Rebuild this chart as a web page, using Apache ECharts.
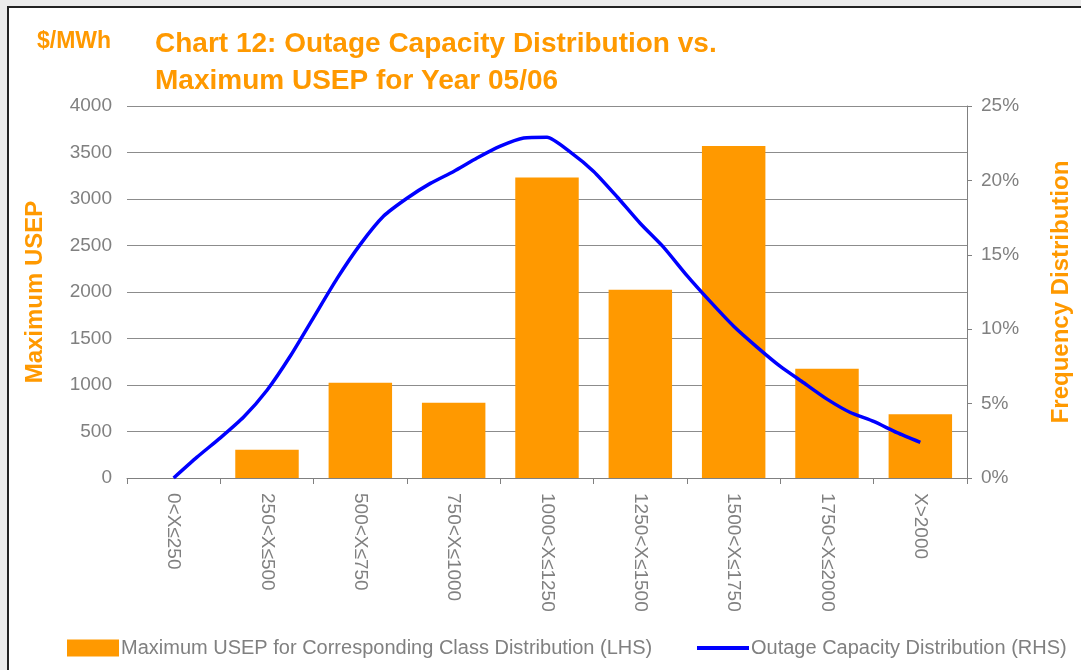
<!DOCTYPE html>
<html>
<head>
<meta charset="utf-8">
<script src="https://cdn.jsdelivr.net/npm/echarts@6/dist/echarts.min.js"></script>
<style>
  html, body { margin: 0; padding: 0; background: #ebebeb; }
  #frame { position: absolute; left: 7px; top: 6px; width: 1100px; height: 700px;
           background: #fff; border-left: 2px solid #222; border-top: 2px solid #222; }
  #main { position: absolute; left: 0; top: 0; width: 1081px; height: 670px; }
</style>
</head>
<body>
<div id="frame"></div>
<div id="main"></div>
<script>
// class ranges of outage capacity (MW)
var categories = ['0<X≤250', '250<X≤500', '500<X≤750', '750<X≤1000', '1000<X≤1250',
                  '1250<X≤1500', '1500<X≤1750', '1750<X≤2000', 'X>2000'];

// maximum USEP ($/MWh) per class (LHS)
var usepMax = [0, 305, 1025, 810, 3230, 2025, 3570, 1175, 685];

// outage capacity frequency (%), sampled every quarter class (RHS)
var outageFreq = [0, 1.4, 2.7, 4.1, 5.9, 8.2, 10.8, 13.4, 15.7, 17.6, 18.8,
                  19.8, 20.6, 21.5, 22.3, 22.85, 22.9, 21.9, 20.6, 18.9, 17.1,
                  15.5, 13.6, 11.85, 10.2, 8.8, 7.5, 6.4, 5.3, 4.4, 3.8, 3.05, 2.4];

var leftTicks = [0, 4000, 500];
var rightTicks = [0, 25, 5];

(function () {
    var myChart = echarts.init(document.getElementById('main'));

    var grey = '#808080';
    var orange = '#FF9900';
    var font = 'Liberation Sans, Arial, sans-serif';
    var barName = 'Maximum USEP for Corresponding Class Distribution (LHS)';
    var lineName = 'Outage Capacity Distribution (RHS)';

    var lineData = [];
    for (var i = 0; i < outageFreq.length; i++) {
        lineData.push([i / 4, outageFreq[i]]);
    }

    var option = {
        backgroundColor: 'transparent',
        animation: false,
        textStyle: { fontFamily: font },
        title: [{
            text: 'Chart 12: Outage Capacity Distribution vs.\nMaximum USEP for Year 05/06',
            left: 150, top: 21,
            textStyle: { color: orange, fontSize: 28, fontWeight: 'bold', lineHeight: 37, fontFamily: font }
        }, {
            text: '$/MWh',
            left: 32, top: 25,
            textStyle: { color: orange, fontSize: 23, fontWeight: 'bold', fontFamily: font }
        }],
        // two legends so the line key can be a thin bar
        legend: [{
            bottom: 7,
            left: 62,
            itemWidth: 52,
            itemHeight: 17,
            textStyle: { color: grey, fontSize: 20, padding: [0, 0, 0, -3] },
            data: [{ name: barName, icon: 'rect' }]
        }, {
            bottom: 7,
            left: 692,
            itemWidth: 52,
            itemHeight: 4,
            textStyle: { color: grey, fontSize: 20, padding: [0, 0, 0, -3] },
            data: [{ name: lineName, icon: 'rect' }]
        }],
        grid: { left: 127, right: 110, top: 106, bottom: 192 },
        xAxis: [{
            type: 'category',
            data: categories,
            axisLine: { lineStyle: { color: grey } },
            axisTick: { show: true, length: 6, lineStyle: { color: grey } },
            axisLabel: { rotate: -90, color: grey, fontSize: 19, margin: 15 }
        }, {
            type: 'value',
            min: -0.5, max: 8.5,
            show: false
        }],
        yAxis: [{
            type: 'value',
            min: leftTicks[0], max: leftTicks[1], interval: leftTicks[2],
            name: 'Maximum USEP',
            nameLocation: 'middle',
            nameRotate: 90,
            nameGap: 80,
            nameTextStyle: { color: orange, fontSize: 24, fontWeight: 'bold' },
            axisLine: { show: false },
            axisTick: { show: false },
            axisLabel: {
                color: grey, fontSize: 19, margin: 15,
                formatter: function (v) { return String(v); }
            },
            splitLine: { lineStyle: { color: '#8c8c8c', width: 1 } }
        }, {
            type: 'value',
            position: 'right',
            min: rightTicks[0], max: rightTicks[1], interval: rightTicks[2],
            name: 'Frequency Distribution',
            nameLocation: 'middle',
            nameRotate: 90,
            nameGap: 82,
            nameTextStyle: { color: orange, fontSize: 24, fontWeight: 'bold' },
            axisLine: { show: true, lineStyle: { color: grey } },
            axisTick: { show: true, length: 5, lineStyle: { color: grey } },
            axisLabel: { color: grey, fontSize: 19, margin: 14, formatter: '{value}%' },
            splitLine: { show: false }
        }],
        series: [{
            name: barName,
            type: 'bar',
            xAxisIndex: 0,
            yAxisIndex: 0,
            data: usepMax,
            barCategoryGap: '32%',
            itemStyle: { color: orange }
        }, {
            name: lineName,
            type: 'line',
            xAxisIndex: 1,
            yAxisIndex: 1,
            data: lineData,
            smooth: 0.2,
            symbol: 'none',
            lineStyle: { color: '#0000FF', width: 3.5 },
            itemStyle: { color: '#0000FF' }
        }]
    };

    myChart.setOption(option);
})();
</script>
</body>
</html>
